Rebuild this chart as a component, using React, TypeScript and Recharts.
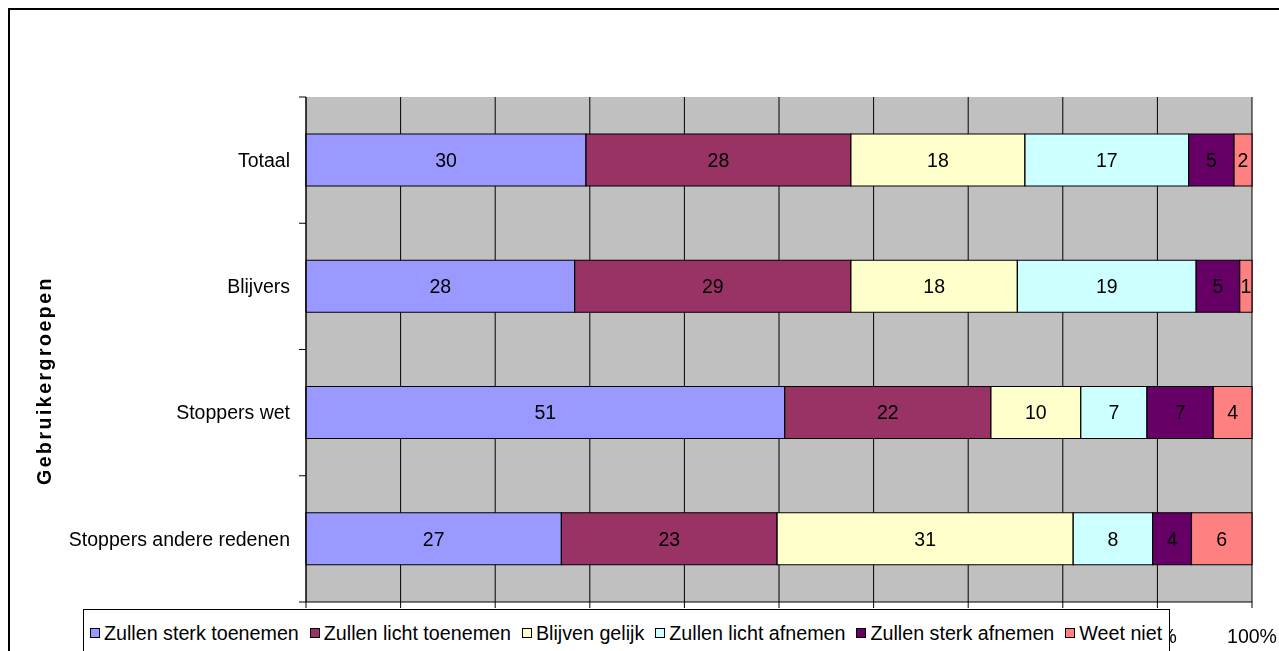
import {
  BarChart,
  Bar,
  XAxis,
  YAxis,
  CartesianGrid,
  Legend,
  LabelList,
} from "recharts"

const categories = ["Totaal", "Blijvers", "Stoppers wet", "Stoppers andere redenen"]

// percentages per group
const sterkToe = [29.6, 28.4, 50.6, 27.0]
const lichtToe = [28.0, 29.2, 21.8, 22.8]
const gelijk = [18.4, 17.6, 9.5, 31.3]
const lichtAf = [17.3, 18.9, 7.0, 8.4]
const sterkAf = [4.8, 4.6, 7.0, 4.1]
const weetNiet = [1.9, 1.3, 4.1, 6.4]

const xTicks = [0, 0.1, 0.2, 0.3, 0.4, 0.5, 0.6, 0.7, 0.8, 0.9, 1]

const SERIES = [
  { key: "sterkToe", name: "Zullen sterk toenemen", color: "#9999FF", values: sterkToe },
  { key: "lichtToe", name: "Zullen licht toenemen", color: "#993366", values: lichtToe },
  { key: "gelijk", name: "Blijven gelijk", color: "#FFFFCC", values: gelijk },
  { key: "lichtAf", name: "Zullen licht afnemen", color: "#CCFFFF", values: lichtAf },
  { key: "sterkAf", name: "Zullen sterk afnemen", color: "#660066", values: sterkAf },
  { key: "weetNiet", name: "Weet niet", color: "#FF8080", values: weetNiet },
]

const data = categories.map((name, i) => {
  const row: Record<string, string | number> = { name }
  SERIES.forEach((s) => {
    row[s.key] = s.values[i]
  })
  return row
})

const FONT = '"Liberation Sans", Arial, sans-serif'
const FS = 19.5
const W = 1271
const H = 643
const PLOT_TOP = 89
const X_AXIS_H = 49
const HALF_BAND = (H - X_AXIS_H - PLOT_TOP) / categories.length / 2

// eslint-disable-next-line @typescript-eslint/no-explicit-any
const CategoryTick = ({ x, y, payload, index }: any) => {
  const half = typeof payload?.offset === "number" && payload.offset > 0 ? payload.offset : HALF_BAND
  return (
    <g>
      <line x1={x + 9} x2={x + 16} y1={y - half} y2={y - half} stroke="#000" />
      {index === categories.length - 1 && (
        <line x1={x + 9} x2={x + 16} y1={y + half} y2={y + half} stroke="#000" />
      )}
      <text x={x} y={y} dy="0.35em" textAnchor="end" fill="#000" fontSize={FS} fontFamily={FONT}>
        {payload.value}
      </text>
    </g>
  )
}

// eslint-disable-next-line @typescript-eslint/no-explicit-any
const AxisTitle = ({ viewBox }: any) => {
  const cx = 36
  const cy = viewBox.y + viewBox.height / 2 + 31
  return (
    <text
      x={cx}
      y={cy}
      transform={`rotate(-90, ${cx}, ${cy})`}
      textAnchor="middle"
      dominantBaseline="central"
      fontSize={FS}
      fontWeight="bold"
      letterSpacing={2.5}
      fontFamily={FONT}
      fill="#000"
    >
      Gebruikergroepen
    </text>
  )
}

const LegendBox = () => (
  <div
    style={{
      border: "1px solid #000",
      background: "#fff",
      height: 60,
      boxSizing: "border-box",
      padding: "13px 0 0 6px",
      display: "flex",
      alignItems: "flex-start",
      fontFamily: FONT,
      fontSize: 19.7,
      lineHeight: "20px",
      whiteSpace: "nowrap",
      color: "#000",
    }}
  >
    {SERIES.map((s) => (
      <span key={s.key} style={{ display: "inline-flex", alignItems: "center", marginRight: 11, height: 20 }}>
        <span
          style={{
            display: "inline-block",
            width: 8,
            height: 8,
            border: "1px solid #000",
            background: s.color,
            marginRight: 4,
          }}
        />
        {s.name}
      </span>
    ))}
  </div>
)

export default function App() {
  return (
    <div style={{ position: "fixed", left: 8, top: 8, width: W, height: H, overflow: "hidden" }}>
      <div
        style={{
          position: "absolute",
          left: 0,
          top: 0,
          width: W + 100,
          height: H + 100,
          border: "2px solid #000",
          boxSizing: "border-box",
        }}
      />
      <div style={{ position: "absolute", left: 0, top: 0 }}>
        <BarChart
          width={W}
          height={H}
          data={data}
          layout="vertical"
          stackOffset="expand"
          barSize={52}
          margin={{ top: PLOT_TOP, right: 27, left: 0, bottom: 0 }}
        >
          <CartesianGrid horizontal={false} stroke="#000" fill="#C0C0C0" fillOpacity={1} />
          <XAxis
            type="number"
            domain={[0, 1]}
            ticks={xTicks}
            interval={0}
            tickFormatter={(v: number) => `${Math.round(v * 100)}%`}
            height={X_AXIS_H}
            tickSize={6}
            tickMargin={21}
            stroke="#000"
            tick={{ fill: "#000", fontSize: FS, fontFamily: FONT }}
          />
          <XAxis
            xAxisId="top"
            orientation="top"
            type="number"
            domain={[0, 1]}
            height={0}
            tick={false}
            tickLine={false}
            axisLine={{ stroke: "#808080", strokeWidth: 2 }}
          />
          <YAxis
            type="category"
            dataKey="name"
            width={298}
            tickSize={0}
            tickMargin={16}
            tickLine={false}
            axisLine={{ stroke: "#000" }}
            tick={<CategoryTick />}
            interval={0}
            label={{ content: <AxisTitle /> }}
          />
          <YAxis
            yAxisId="right"
            orientation="right"
            type="category"
            dataKey="name"
            width={0}
            tick={false}
            tickLine={false}
            axisLine={{ stroke: "#808080", strokeWidth: 2 }}
          />
          <Legend
            verticalAlign="middle"
            wrapperStyle={{ left: 75, top: 601, width: 1087 }}
            content={<LegendBox />}
          />
          {SERIES.map((s) => (
            <Bar
              key={s.key}
              dataKey={s.key}
              name={s.name}
              stackId="a"
              fill={s.color}
              stroke="#000"
              strokeWidth={1.2}
              isAnimationActive={false}
            >
              <LabelList
                dataKey={s.key}
                position="center"
                formatter={(v: number) => Math.round(v)}
                fill="#000"
                fontSize={FS}
                fontFamily={FONT}
              />
            </Bar>
          ))}
        </BarChart>
      </div>
    </div>
  )
}
